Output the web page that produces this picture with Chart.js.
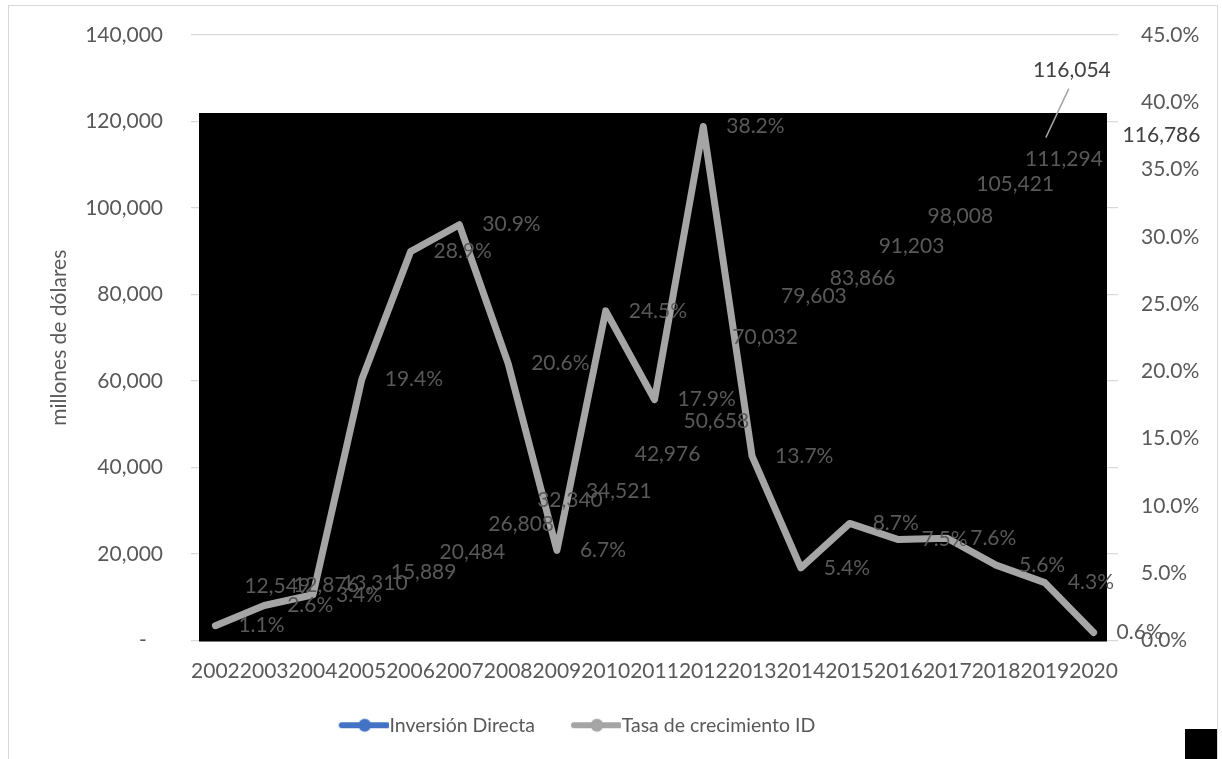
<!DOCTYPE html>
<html>
<head>
<meta charset="utf-8">
<script src="https://cdn.jsdelivr.net/npm/chart.js@4.4.0/dist/chart.umd.min.js"></script>
<style>
  body { margin: 0; background: #fff; }
  #marco { position: absolute; left: 8px; top: 5px; width: 1208px; height: 760px; border: 1px solid #d9d9d9; }
  #cuadro { position: absolute; left: 1185px; top: 729px; width: 32px; height: 30px; background: #000; }
  #myChart { position: absolute; left: 0; top: 0; }
</style>
</head>
<body>
<div id="marco"></div>
<canvas id="myChart" width="1222" height="759"></canvas>
<div id="cuadro"></div>
<script>
const years = ["2002", "2003", "2004", "2005", "2006", "2007", "2008", "2009", "2010", "2011",
               "2012", "2013", "2014", "2015", "2016", "2017", "2018", "2019", "2020"];
// millones de dólares
const inversion = [12549, 12876, 13310, 15889, 20484, 26808, 32340, 34521, 42976, 50658,
                   70032, 79603, 83866, 91203, 98008, 105421, 111294, 116054, 116786];
// tasa de crecimiento, %
const tasa = [1.1, 2.6, 3.4, 19.4, 28.9, 30.9, 20.6, 6.7, 24.5, 17.9,
              38.2, 13.7, 5.4, 8.7, 7.5, 7.6, 5.6, 4.3, 0.6];
const leftTicks = [0, 20000, 40000, 60000, 80000, 100000, 120000, 140000];
const rightTicks = [0, 5, 10, 15, 20, 25, 30, 35, 40, 45];

const chart = document.getElementById("myChart");
const fuente = { family: "Lato, sans-serif", size: 21 };
const gris = "#595959";

// line + marker icon used in the legend
const marcaLeyenda = (color) => {
    const c = document.createElement("canvas");
    c.width = 85;
    c.height = 16;
    const ctx = c.getContext("2d");
    ctx.strokeStyle = color;
    ctx.lineWidth = 6;
    ctx.lineCap = "round";
    ctx.beginPath();
    ctx.moveTo(38, 8);
    ctx.lineTo(83, 8);
    ctx.stroke();
    ctx.fillStyle = color;
    ctx.beginPath();
    ctx.arc(61, 8, 6.5, 0, Math.PI * 2);
    ctx.fill();
    return c;
};

const ajustarEje = (ancho) => (s) => {
    s.width = ancho;
    s.paddingTop = 0;
    s.paddingBottom = 0;
};

const etiquetas = {
    id: "etiquetas",
    afterLayout(chart) {
        chart.legend.left -= 47;
        chart.legend.right -= 47;
    },
    beforeDatasetDraw(chart, args) {
        if (args.index !== 1) return;
        const a = chart.chartArea;
        const ctx = chart.ctx;
        ctx.save();
        ctx.fillStyle = "#000";
        ctx.fillRect(a.left + 8, a.top + 78, a.right - a.left - 19, a.bottom - a.top - 77);
        ctx.restore();
    },
    afterDatasetsDraw(chart) {
        const ctx = chart.ctx;
        ctx.save();
        ctx.font = "21px Lato, sans-serif";
        ctx.fillStyle = gris;
        ctx.textBaseline = "middle";
        ctx.textAlign = "left";
        chart.getDatasetMeta(1).data.forEach((p, i) => {
            ctx.fillText(tasa[i].toFixed(1) + "%", p.x + 23, p.y);
        });
        chart.getDatasetMeta(0).data.forEach((p, i) => {
            const txt = inversion[i].toLocaleString("en-US");
            if (i === 17) {
                ctx.strokeStyle = "#a5a5a5";
                ctx.lineWidth = 1.5;
                ctx.beginPath();
                ctx.moveTo(p.x + 1, p.y - 1);
                ctx.lineTo(p.x + 24, p.y - 50);
                ctx.stroke();
                ctx.fillStyle = "#404040";
                ctx.textAlign = "center";
                ctx.fillText(txt, p.x + 27, p.y - 68);
                ctx.textAlign = "left";
                ctx.fillStyle = gris;
            } else {
                if (i === 18) ctx.fillStyle = "#404040";
                ctx.fillText(txt, p.x + 29, p.y);
            }
        });
        ctx.restore();
    }
};

new Chart(chart, {
    type: "line",
    data: {
        labels: years,
        datasets: [
            {
                label: "Inversión Directa",
                data: inversion,
                yAxisID: "y",
                borderColor: "#4472c4",
                backgroundColor: "#4472c4",
                borderWidth: 7,
                pointRadius: 0,
                pointStyle: marcaLeyenda("#4472c4"),
                order: 1,
            },
            {
                label: "Tasa de crecimiento ID",
                data: tasa,
                yAxisID: "y1",
                borderColor: "#a5a5a5",
                backgroundColor: "#a5a5a5",
                borderWidth: 7,
                borderCapStyle: "round",
                borderJoinStyle: "round",
                pointRadius: 0,
                pointStyle: marcaLeyenda("#a5a5a5"),
                order: 0,
            },
        ],
    },
    options: {
        responsive: false,
        animation: false,
        layout: { padding: { top: 35, left: 0, right: 0, bottom: 14 } },
        plugins: {
            tooltip: { enabled: false },
            legend: {
                position: "bottom",
                labels: {
                    usePointStyle: true,
                    pointStyleWidth: 67,
                    padding: 10,
                    color: gris,
                    font: { family: "Lato, sans-serif", size: 19.5 },
                    sort: (a, b) => a.datasetIndex - b.datasetIndex,
                },
            },
        },
        scales: {
            x: {
                offset: true,
                grid: { display: false, drawTicks: false },
                border: { display: false },
                ticks: { autoSkip: false, maxRotation: 0, minRotation: 0, padding: 18, color: gris, font: fuente },
                afterFit: (s) => { s.height = 65; },
            },
            y: {
                position: "left",
                min: 0,
                max: 140000,
                afterBuildTicks: (s) => { s.ticks = leftTicks.map((v) => ({ value: v })); },
                ticks: {
                    padding: 28,
                    color: gris,
                    font: fuente,
                    callback: (v) => (v === 0 ? "-   " : v.toLocaleString("en-US")),
                },
                grid: { color: "#d9d9d9", lineWidth: 1.3, drawTicks: false },
                border: { display: false },
                title: { display: true, text: "millones de dólares", color: gris, font: fuente, padding: { top: 47, bottom: 0 } },
                afterFit: ajustarEje(191),
            },
            y1: {
                position: "right",
                min: 0,
                max: 45,
                afterBuildTicks: (s) => { s.ticks = rightTicks.map((v) => ({ value: v })); },
                ticks: {
                    padding: 23,
                    color: gris,
                    font: fuente,
                    callback: (v) => v.toFixed(1) + "%",
                },
                grid: { display: false, drawTicks: false },
                border: { display: false },
                afterFit: ajustarEje(104),
            },
        },
    },
    plugins: [etiquetas],
});
</script>
</body>
</html>
